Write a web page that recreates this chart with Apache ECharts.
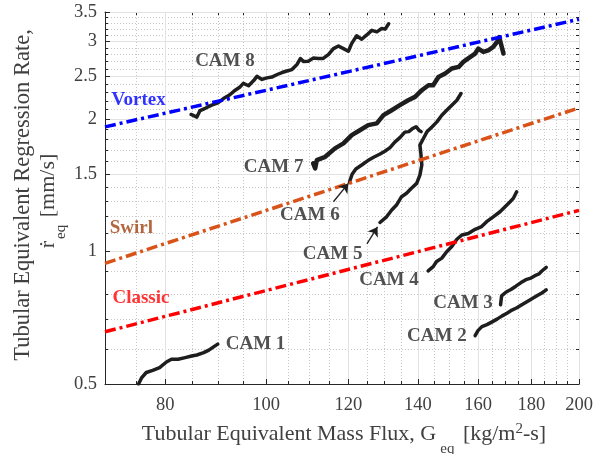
<!DOCTYPE html>
<html>
<head>
<meta charset="utf-8">
<script src="https://cdn.jsdelivr.net/npm/echarts@6/dist/echarts.min.js"></script>
<style>
  html, body { margin: 0; padding: 0; background: #ffffff; }
  #chart { width: 601px; height: 454px; }
</style>
</head>
<body>
<div id="chart"></div>
<script>
// Axis ticks (log-log axes)
const xMajor = [80, 100, 120, 140, 160, 180, 200];
const xMinor = [75, 85, 90, 95, 105, 110, 115, 125, 130, 135, 145, 150, 155, 165, 170, 175, 185, 190, 195];
const yMajor = [0.5, 1, 1.5, 2, 2.5, 3, 3.5];
const yMinor = [0.6, 0.7, 0.8, 0.9, 1.1, 1.2, 1.3, 1.4, 1.6, 1.7, 1.8, 1.9, 2.1, 2.2, 2.3, 2.4,
                2.6, 2.7, 2.8, 2.9, 3.1, 3.2, 3.3, 3.4];

// Regression-rate correlations (power laws, straight on log-log)
const modelG = [70, 200];
const vortexR = [1.919, 3.37];
const swirlR = [0.94, 2.12];
const classicR = [0.657, 1.24];

// Measured tubular-equivalent histories, G_eq [kg/m^2-s] vs r_eq [mm/s]
const cam1G = [75.4, 75.9, 76.7, 77.8, 79.0, 80.2, 81.1, 82.3, 83.6, 84.8, 85.8, 87.1, 88.1, 89.1, 89.85];
const cam1R = [0.5, 0.516, 0.531, 0.537, 0.545, 0.561, 0.569, 0.569, 0.574, 0.579, 0.582, 0.589, 0.597, 0.608, 0.616];

const cam2G = [158.9, 159.9, 161.3, 163.1, 165.0, 166.8, 168.7, 170.5, 172.4, 174.3, 176.2, 178.2, 180.2, 182.2, 184.2, 186.0];
const cam2R = [0.644, 0.661, 0.675, 0.682, 0.692, 0.702, 0.714, 0.724, 0.736, 0.745, 0.757, 0.769, 0.781, 0.793, 0.805, 0.818];

const cam3G = [168.1, 168.5, 170.2, 172.0, 173.9, 175.9, 177.8, 179.8, 181.4, 183.0, 184.2, 186.0];
const cam3R = [0.757, 0.793, 0.809, 0.82, 0.834, 0.85, 0.863, 0.87, 0.881, 0.889, 0.903, 0.92];

const cam4G = [143.2, 144.8, 145.9, 147.6, 149.2, 150.9, 152.6, 154.3, 156.5, 158.9, 161.2, 163.0, 165.4, 167.9, 169.8, 171.7, 172.9, 174.2];
const cam4R = [0.904, 0.924, 0.949, 0.966, 0.999, 1.026, 1.066, 1.09, 1.099, 1.123, 1.139, 1.169, 1.199, 1.231, 1.264, 1.297, 1.32, 1.367];

const cam5G = [128.7, 130.6, 132.1, 133.5, 135.0, 136.5, 138.0, 139.6, 140.6, 141.2, 140.9, 140.6, 141.7, 142.8, 144.4, 146.0, 147.6, 149.2, 150.9, 152.6, 154.0];
const cam5R = [1.164, 1.199, 1.242, 1.275, 1.332, 1.356, 1.392, 1.428, 1.491, 1.572, 1.671, 1.745, 1.806, 1.87, 1.919, 1.97, 2.04, 2.094, 2.15, 2.206, 2.285];

const cam6G = [120.3, 121.0, 122.0, 123.6, 125.3, 126.9, 128.6, 130.1, 131.6, 133.0, 134.5, 136.0, 137.2, 138.5, 139.4, 140.3, 141.0];
const cam6R = [1.438, 1.498, 1.54, 1.572, 1.609, 1.637, 1.663, 1.689, 1.722, 1.772, 1.814, 1.867, 1.872, 1.906, 1.921, 1.886, 1.872];

const cam7G = [111.0, 111.5, 111.9, 114.0, 116.5, 118.7, 120.9, 123.1, 125.4, 127.8, 129.7, 132.1, 134.5, 137.0, 139.1, 141.2,
               143.3, 144.8, 146.5, 148.7, 150.9, 153.2, 154.8, 156.5, 158.9, 160.0, 161.8, 163.6, 165.4, 167.3, 167.6, 169.2];
const cam7R = [1.585, 1.545, 1.613, 1.641, 1.715, 1.76, 1.838, 1.886, 1.937, 1.955, 2.04, 2.094, 2.15, 2.206, 2.245, 2.325,
               2.386, 2.386, 2.492, 2.537, 2.604, 2.626, 2.696, 2.745, 2.816, 2.89, 2.84, 2.865, 2.915, 3.02, 3.07, 2.816];

const cam8G = [84.7, 85.8, 86.4, 87.4, 88.65, 90.0, 91.0, 92.3, 93.4, 94.4, 95.1, 96.2, 97.3, 98.0, 99.1, 100.2, 101.3, 102.5, 103.6, 104.7, 105.9,
               107.1, 107.9, 108.7, 109.8, 111.0, 112.3, 113.5, 114.8, 116.1, 117.4, 118.7, 120.0, 120.9, 122.2, 123.6, 124.9, 126.4, 127.8, 129.2, 130.2, 131.2];
const cam8R = [2.048, 2.02, 2.09, 2.115, 2.15, 2.18, 2.226, 2.27, 2.325, 2.365, 2.41, 2.38, 2.445, 2.50, 2.46, 2.48, 2.49, 2.524, 2.55, 2.57, 2.59,
               2.66, 2.744, 2.70, 2.705, 2.75, 2.745, 2.745, 2.80, 2.89, 2.93, 2.89, 2.85, 2.97, 3.09, 3.035, 3.10, 3.18, 3.155, 3.21, 3.20, 3.29];

// Text annotations placed in data coordinates
const camNames = ['CAM 1', 'CAM 2', 'CAM 3', 'CAM 4', 'CAM 5', 'CAM 6', 'CAM 7', 'CAM 8'];
const camLabelG = [97.7, 146.0, 154.7, 131.3, 115.9, 110.2, 101.7, 91.3];
const camLabelR = [0.617, 0.643, 0.763, 0.863, 0.989, 1.21, 1.558, 2.71];
const modelNames = ['Vortex', 'Swirl', 'Classic'];
const modelLabelG = [75.4, 74.2, 75.8];
const modelLabelR = [2.21, 1.128, 0.783];

// Pointer arrows (tail -> head)
const cam6ArrowG = [116.1, 120.0];
const cam6ArrowR = [1.297, 1.428];
const cam5ArrowG = [125.05, 128.0];
const cam5ArrowR = [1.041, 1.137];

const serif = '"Liberation Serif", "Times New Roman", Times, serif';
const axisColor = '#262626';
const textColor = '#404040';
const modelColors = ['#0000ff', '#d95319', '#ff0000'];
const modelTextColors = ['#0000ff', '#a0410e', '#ff0000'];

const zip = (a, b) => a.map((v, i) => [v, b[i]]);
const fmt = v => String(+Number(v).toFixed(2));

function logAxis(kind, position, ticks, tickLen, opts) {
  const ext = kind === 'x' ? [70, 200] : [0.5, 3.5];
  return {
    type: 'log', logBase: 10, min: ext[0], max: ext[1], position: position,
    axisLine: opts.line
      ? { show: true, onZero: false, lineStyle: { color: axisColor, width: 1 } }
      : { show: false },
    axisTick: { show: true, inside: true, length: tickLen, customValues: ticks,
                lineStyle: { color: axisColor, width: 1 } },
    axisLabel: opts.labels
      ? { show: true, customValues: ticks, formatter: fmt, fontFamily: serif, fontSize: 18.5,
          color: textColor, margin: kind === 'x' ? 12 : 8 }
      : { show: false },
    splitLine: opts.split || { show: false },
    minorTick: { show: false },
    minorSplitLine: { show: false },
    z: opts.z || 0
  };
}

const majorGrid = { show: true, lineStyle: { color: '#e2e2e2', width: 1, type: 'solid' } };
const minorGrid = { show: true, lineStyle: { color: '#c6c6c6', width: 1, type: [1, 2] } };

const camStyle = w => ({ color: '#1e1e1e', width: w, cap: 'round', join: 'round' });

function camSeries(name, g, r, w, arrow) {
  const s = {
    name: name, type: 'line', data: zip(g, r), showSymbol: false, symbol: 'none',
    lineStyle: camStyle(w), clip: true, z: 3, animation: false, silent: true
  };
  if (arrow) {
    s.markLine = {
      silent: true, animation: false, symbol: ['none', 'arrow'], symbolSize: 9,
      label: { show: false },
      emphasis: { disabled: true },
      lineStyle: { color: '#1e1e1e', width: 1.3, type: 'solid', opacity: 1 },
      data: [[{ coord: [arrow[0][0], arrow[1][0]] }, { coord: [arrow[0][1], arrow[1][1]] }]]
    };
  }
  return s;
}

function modelSeries(name, r, color) {
  return {
    name: name, type: 'line', data: zip(modelG, r), showSymbol: false, symbol: 'none',
    lineStyle: { color: color, width: 3.5, type: [11, 4, 3, 4], cap: 'butt' },
    clip: true, z: 4, animation: false, silent: true
  };
}

const option = {
  backgroundColor: '#ffffff',
  animation: false,
  grid: { left: 105, right: 22, top: 12, bottom: 70, containLabel: false },
  xAxis: [
    logAxis('x', 'bottom', xMajor, 5, { line: true, labels: true, split: majorGrid, z: 1 }),
    logAxis('x', 'bottom', xMinor, 3, { split: minorGrid }),
    logAxis('x', 'top', xMajor, 5, { line: true }),
    logAxis('x', 'top', xMinor, 3, {})
  ],
  yAxis: [
    logAxis('y', 'left', yMajor, 5, { line: true, labels: true, split: majorGrid, z: 1 }),
    logAxis('y', 'left', yMinor, 3, { split: minorGrid }),
    logAxis('y', 'right', yMajor, 5, { line: true }),
    logAxis('y', 'right', yMinor, 3, {})
  ],
  graphic: [
    {
      type: 'text', x: 23, y: 195, rotation: Math.PI / 2, silent: true,
      style: { text: 'Tubular Equivalent Regression Rate,', fontFamily: serif, fontSize: 22.5,
               fill: textColor, align: 'center', verticalAlign: 'middle' }
    },
    {
      type: 'text', x: 48, y: 201, rotation: Math.PI / 2, silent: true,
      style: {
        text: '{t|ṙ}{sub|eq}{t| [mm/s]}', align: 'center', verticalAlign: 'middle',
        rich: {
          t: { fontFamily: serif, fontSize: 22, fill: textColor },
          sub: { fontFamily: serif, fontSize: 15, fill: textColor, padding: [26, 2, 0, 2] }
        }
      }
    },
    {
      type: 'text', x: 344, y: 434, silent: true,
      style: {
        text: '{t|Tubular Equivalent Mass Flux, G}{sub|eq}{t| [kg/m}{sup|2}{t|-s]}',
        align: 'center', verticalAlign: 'middle',
        rich: {
          t: { fontFamily: serif, fontSize: 22, fill: textColor },
          sub: { fontFamily: serif, fontSize: 15, fill: textColor, padding: [30, 3, 0, 4] },
          sup: { fontFamily: serif, fontSize: 15, fill: textColor, padding: [0, 0, 9, 0] }
        }
      }
    }
  ],
  series: [
    camSeries('CAM 1', cam1G, cam1R, 3.5),
    camSeries('CAM 2', cam2G, cam2R, 3.5),
    camSeries('CAM 3', cam3G, cam3R, 3.5),
    camSeries('CAM 4', cam4G, cam4R, 3.5),
    camSeries('CAM 5', cam5G, cam5R, 3.5, [cam5ArrowG, cam5ArrowR]),
    camSeries('CAM 6', cam6G, cam6R, 3.5, [cam6ArrowG, cam6ArrowR]),
    camSeries('CAM 7', cam7G, cam7R, 4.5),
    camSeries('CAM 8', cam8G, cam8R, 3.5),
    modelSeries('Vortex', vortexR, modelColors[0]),
    modelSeries('Swirl', swirlR, modelColors[1]),
    modelSeries('Classic', classicR, modelColors[2]),
    {
      name: 'camLabels', type: 'scatter', silent: true, animation: false, z: 5,
      symbolSize: 1, itemStyle: { color: 'rgba(0,0,0,0)' },
      data: camNames.map((n, i) => [camLabelG[i], camLabelR[i], n]),
      label: { show: true, position: 'inside', formatter: p => p.data[2],
               fontFamily: serif, fontWeight: 'bold', fontSize: 19, color: '#262626' }
    },
    {
      name: 'modelLabels', type: 'scatter', silent: true, animation: false, z: 5,
      symbolSize: 1, itemStyle: { color: 'rgba(0,0,0,0)' },
      data: modelNames.map((n, i) => ({
        value: [modelLabelG[i], modelLabelR[i], n],
        label: { color: modelTextColors[i] }
      })),
      label: { show: true, position: 'inside', formatter: p => p.value[2],
               fontFamily: serif, fontWeight: 'bold', fontSize: 19 }
    }
  ]
};

const chart = echarts.init(document.getElementById('chart'), null, { renderer: 'canvas' });
chart.setOption(option);
</script>
</body>
</html>
